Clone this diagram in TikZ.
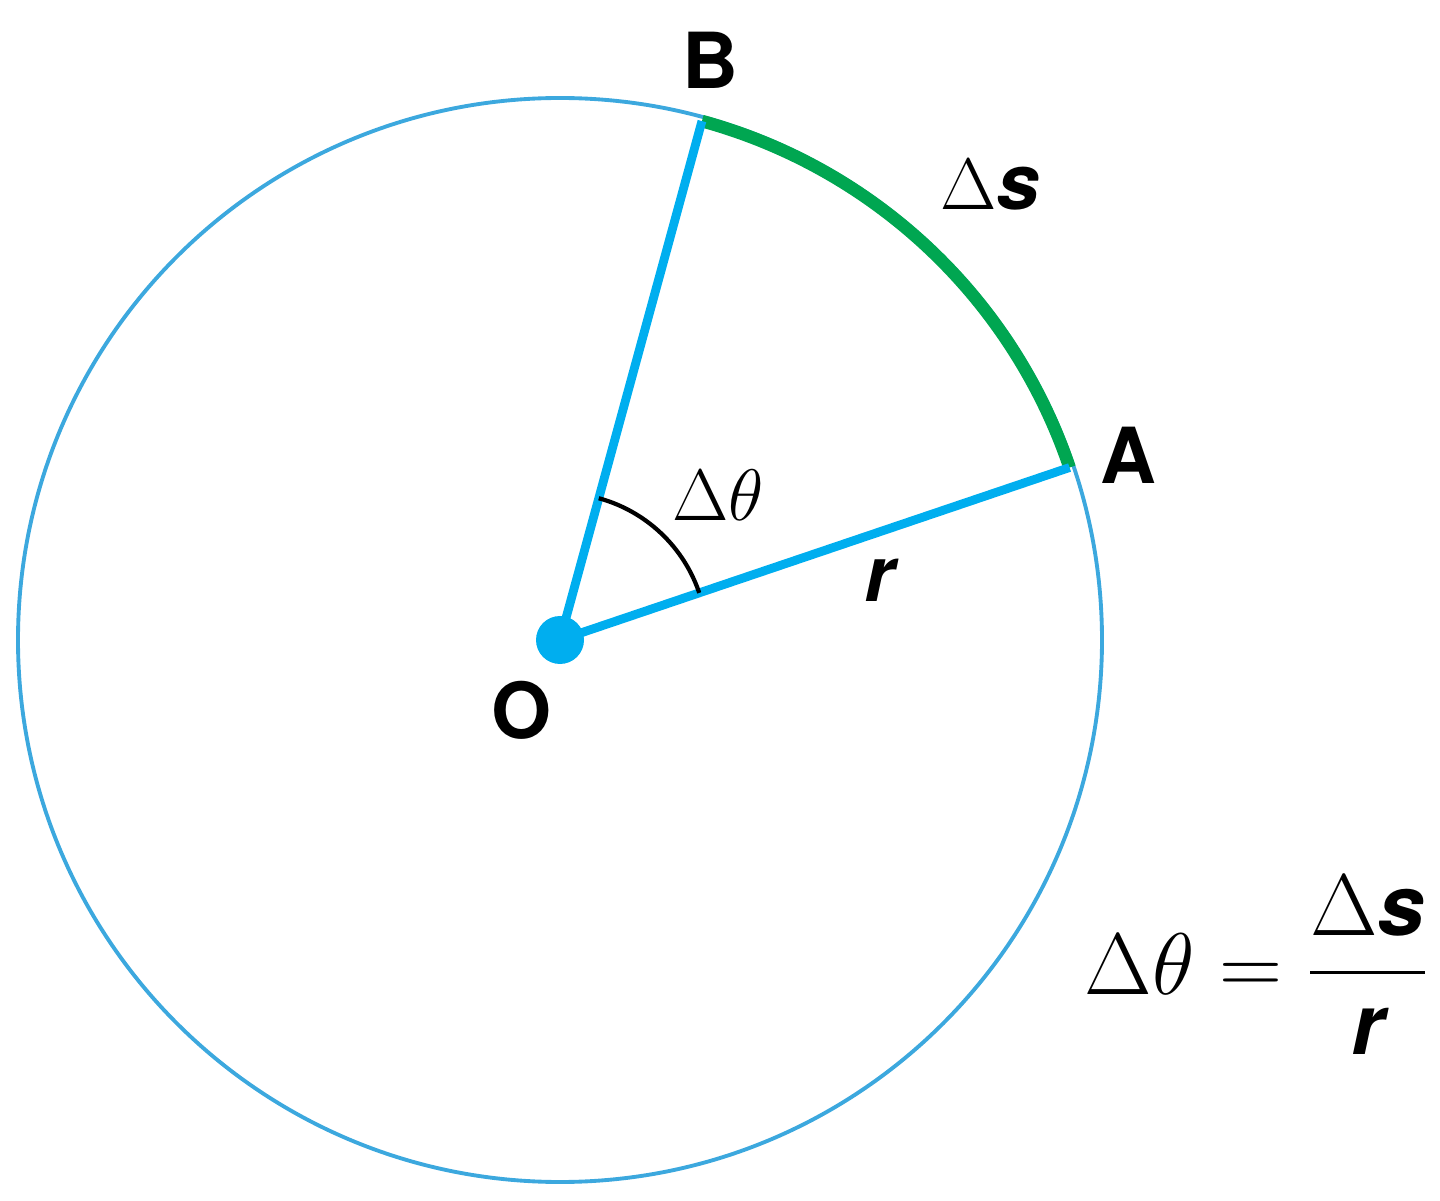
\documentclass[tikz,border=0pt]{standalone}
\usepackage{amsmath}
\usepackage{fontspec}
\usetikzlibrary{calc}
\newfontfamily\hv{TeX Gyre Heros}
\definecolor{cblue}{RGB}{0,174,239}
\definecolor{ccirc}{RGB}{60,168,222}
\definecolor{cgreen}{RGB}{0,166,81}
\begin{document}
\begin{tikzpicture}[lbl/.style={font=\fontsize{22}{26}\selectfont\hv\bfseries},
 mth/.style={font=\fontsize{22}{26}\selectfont}]
\useasboundingbox (0,0) rectangle (14.4,12);
\coordinate (O) at (5.6,5.6);
\coordinate (A) at ($(O)+(18.7:5.38)$);
\coordinate (B) at ($(O)+(74.7:5.38)$);
\draw[ccirc,line width=1.1pt] (O) circle (5.42);
\draw[cgreen,line width=3.6pt] (A) arc (18.7:74.7:5.38);
\draw[cblue,line width=2.5pt] (B) -- (O) -- (A);
\draw[black,line width=1.2pt] ($(O)+(18.7:1.47)$) arc (18.7:74.7:1.47);
\fill[cblue] (O) circle (0.24);
\node[lbl] (lB) at (7.1,11.4) {B};
\node[lbl] (lA) at (11.28,7.45) {A};
\node[lbl] (lO) at (5.22,4.9) {O};
\node[mth] (ds) at (9.9,10.15) {$\Delta\text{\hv\bfseries\itshape s}$};
\node[mth] (dt) at (7.18,7.05) {$\Delta\theta$};
\node[mth] (r) at (8.8,6.2) {\hv\bfseries\itshape r};
\node[mth,font=\fontsize{24}{28}\selectfont] (f) at (12.57,2.35) {$\Delta\theta=\dfrac{\Delta\text{\hv\bfseries\itshape s}}{\text{\hv\bfseries\itshape r}}$};
\end{tikzpicture}
\end{document}
